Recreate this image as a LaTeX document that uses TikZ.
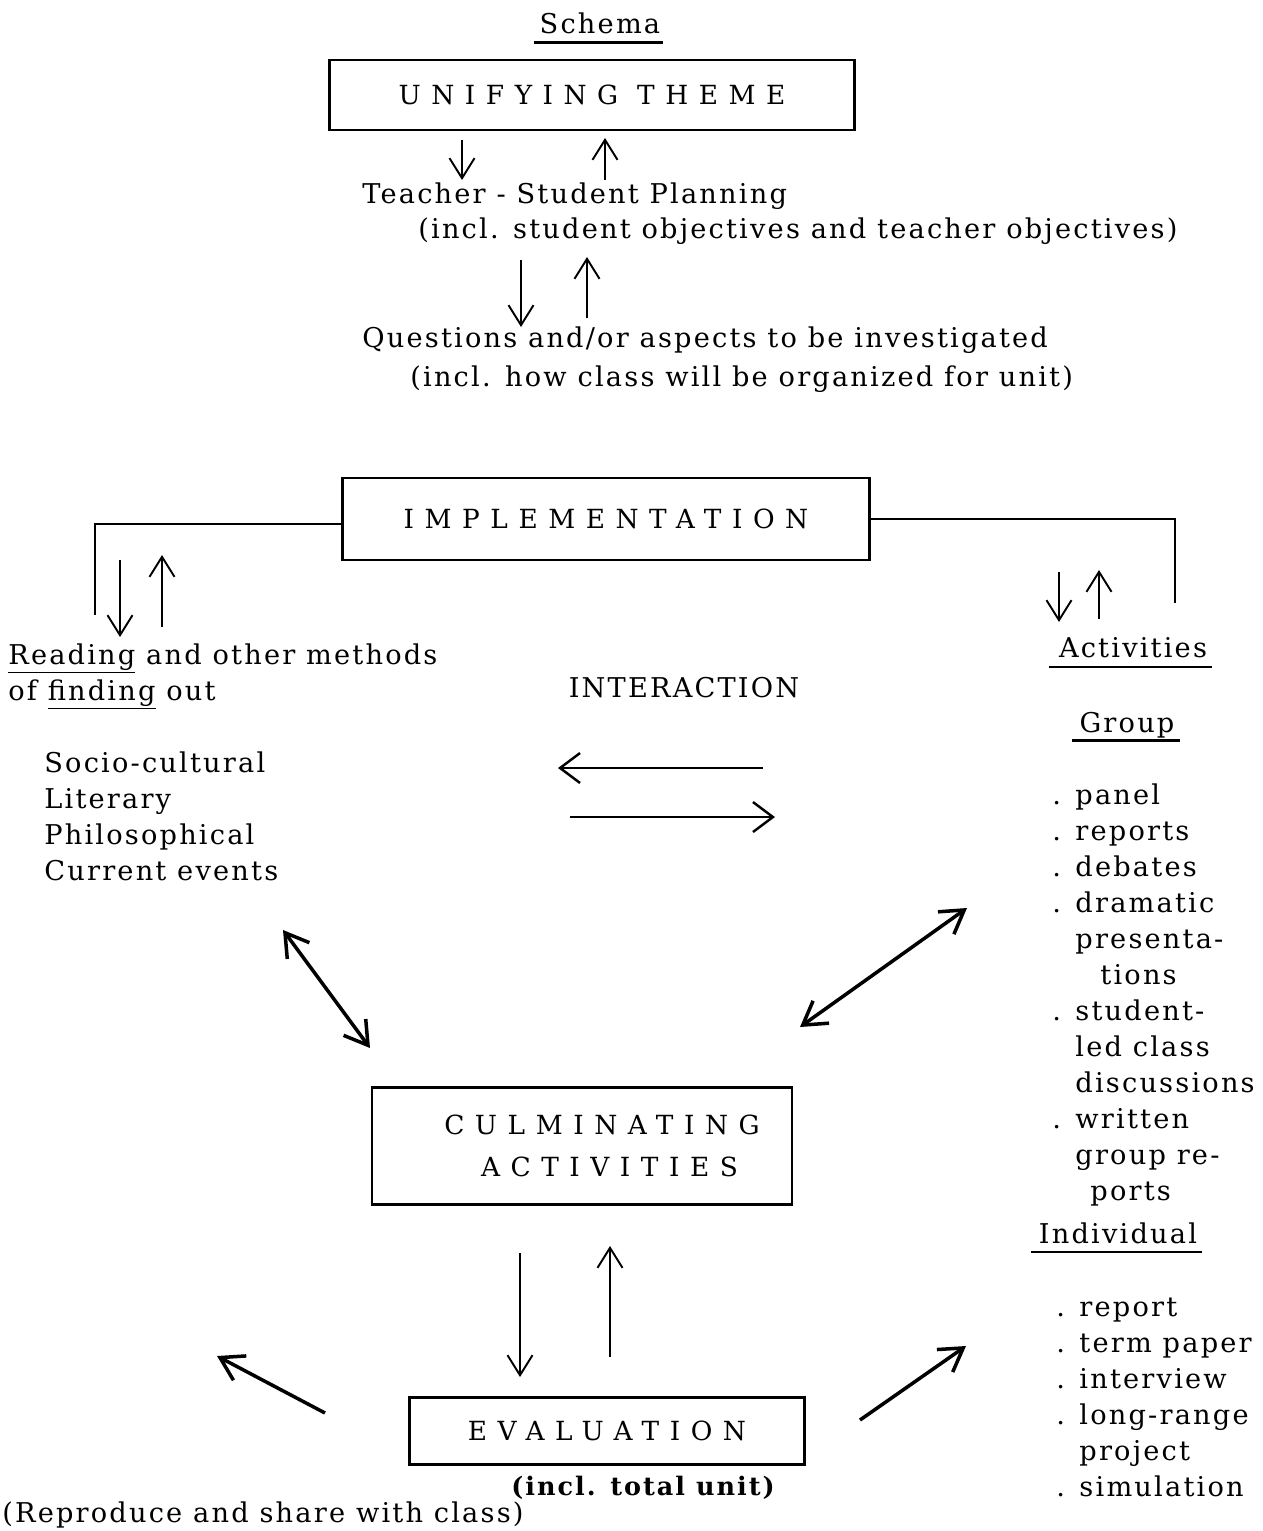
\documentclass[tikz,border=0pt]{standalone}
\usepackage{fontspec}
\setmainfont[LetterSpace=8]{DejaVu Serif}
\newfontfamily\capsfont[LetterSpace=40]{DejaVu Serif}
\usetikzlibrary{positioning,arrows.meta}

\newcommand{\leftlines}[1]{\begin{tabular}[t]{@{}l@{}}#1\end{tabular}}

\tikzset{
    txt/.style={inner sep=0pt, anchor=base west, font=\fontsize{15.5}{20.5}\selectfont},
    box/.style={draw, line width=1.4pt, inner sep=0pt, font=\fontsize{15}{24}\selectfont\capsfont},
    uline/.style={line width=1.2pt},
    arr/.style={line width=1.1pt, -{Straight Barb[length=4mm,width=5mm]}},
    harr/.style={line width=1.4pt, -{Straight Barb[length=4mm,width=6mm]}},
    slant/.style={line width=2pt, -{Straight Barb[length=4.5mm,width=5.5mm]}},
    both/.style={line width=2pt, {Straight Barb[length=4.5mm,width=5.5mm]}-{Straight Barb[length=4.5mm,width=5.5mm]}}
}

\begin{document}
\begin{tikzpicture}[x=0.02cm, y=-0.02cm]
    \useasboundingbox (0,0) rectangle (1262,1531);

    % Title
    \node[txt, anchor=base] (schema) at (600,34) {Schema};
    \draw[uline] ([xshift=-0.1cm, yshift=-0.17cm]schema.base west) -- ([xshift=0.05cm, yshift=-0.17cm]schema.base east);

    % Theme and planning
    \node[box, minimum width=10.5cm, minimum height=1.4cm] (unify) at (592,95) {UNIFYING THEME};

    \coordinate (ua1) at (462,140);
    \coordinate (ua2) at (462,180);
    \coordinate (ub1) at (605,180);
    \coordinate (ub2) at (605,138);
    \draw[arr] (ua1) -- (ua2);
    \draw[arr] (ub1) -- (ub2);

    \node[txt] (plan) at (362,203) {Teacher - Student Planning};
    \node[txt] (planinc) at (418,238) {(incl. student objectives and teacher objectives)};

    \coordinate (qa1) at (521,260);
    \coordinate (qa2) at (521,327);
    \coordinate (qb1) at (587,318);
    \coordinate (qb2) at (587,257);
    \draw[arr] (qa1) -- (qa2);
    \draw[arr] (qb1) -- (qb2);

    \node[txt] (quest) at (362,347) {Questions and/or aspects to be investigated};
    \node[txt] (questinc) at (410,386) {(incl. how class will be organized for unit)};

    % Implementation
    \node[box, minimum width=10.54cm, minimum height=1.64cm] (impl) at (606,519) {IMPLEMENTATION};
    \coordinate (readtop) at (95,615);
    \coordinate (acttop) at (1175,603);
    \draw[line width=1.3pt] ([yshift=-0.1cm]impl.west) -| (readtop);
    \draw[line width=1.3pt] (impl.east) -| (acttop);

    \coordinate (ra1) at (120,560);
    \coordinate (ra2) at (120,637);
    \coordinate (rb1) at (162,627);
    \coordinate (rb2) at (162,555);
    \draw[arr] (ra1) -- (ra2);
    \draw[arr] (rb1) -- (rb2);

    \coordinate (aa1) at (1059,572);
    \coordinate (aa2) at (1059,622);
    \coordinate (ab1) at (1099,619);
    \coordinate (ab2) at (1099,570);
    \draw[arr] (aa1) -- (aa2);
    \draw[arr] (ab1) -- (ab2);

    % Reading side
    \node[txt] (read) at (8,664) {\leftlines{\underline{Reading} and other methods\\of \underline{finding} out}};
    \node[txt] (topics) at (44,772) {\leftlines{Socio-cultural\\Literary\\Philosophical\\Current events}};

    % Interaction
    \node[txt, anchor=base] (inter) at (684,697) {INTERACTION};
    \coordinate (ia1) at (763,768);
    \coordinate (ia2) at (558,768);
    \coordinate (ib1) at (570,817);
    \coordinate (ib2) at (775,817);
    \draw[harr] (ia1) -- (ia2);
    \draw[harr] (ib1) -- (ib2);

    % Activities side
    \node[txt, anchor=base] (activ) at (1133,657) {Activities};
    \draw[uline] ([xshift=-0.2cm, yshift=-0.2cm]activ.base west) -- ([xshift=0.1cm, yshift=-0.2cm]activ.base east);
    \node[txt, anchor=base] (group) at (1127,732) {Group};
    \draw[uline] ([xshift=-0.15cm, yshift=-0.17cm]group.base west) -- ([xshift=0.1cm, yshift=-0.17cm]group.base east);
    \node[txt] (grouplist) at (1052,804) {\leftlines{. panel\\. reports\\. debates\\. dramatic\\\hphantom{. }presenta-\\\hphantom{. }\hspace*{0.5cm}tions\\. student-\\\hphantom{. }led class\\\hphantom{. }discussions\\. written\\\hphantom{. }group re-\\\hphantom{. }\hspace*{0.3cm}ports}};
    \node[txt, anchor=base] (indiv) at (1118,1243) {Individual};
    \draw[uline] ([xshift=-0.15cm, yshift=-0.18cm]indiv.base west) -- ([xshift=0.1cm, yshift=-0.18cm]indiv.base east);
    \node[txt] (indivlist) at (1056,1316) {\leftlines{. report\\. term paper\\. interview\\. long-range\\\hphantom{. }project\\. simulation}};

    % Culminating activities
    \coordinate (la1) at (283,930);
    \coordinate (la2) at (370,1048);
    \coordinate (lb1) at (967,908);
    \coordinate (lb2) at (800,1027);
    \draw[both] (la1) -- (la2);
    \draw[both] (lb1) -- (lb2);

    \node[box, minimum width=8.4cm, minimum height=2.34cm, align=center] (culm) at (582,1146) {\hspace*{0.8cm}CULMINATING\\\hspace*{1.1cm}ACTIVITIES};

    \coordinate (ca1) at (520,1253);
    \coordinate (ca2) at (520,1377);
    \coordinate (cb1) at (610,1357);
    \coordinate (cb2) at (610,1246);
    \draw[arr] (ca1) -- (ca2);
    \draw[arr] (cb1) -- (cb2);

    % Evaluation
    \node[box, minimum width=7.9cm, minimum height=1.34cm] (eval) at (607,1431) {EVALUATION};
    \node[txt, anchor=base, font=\fontsize{14.5}{18}\selectfont\bfseries] (evalinc) at (643,1495) {(incl. total unit)};
    \node[txt] (share) at (2,1522) {(Reproduce and share with class)};

    \coordinate (ea1) at (325,1413);
    \coordinate (ea2) at (217,1356);
    \coordinate (eb1) at (860,1420);
    \coordinate (eb2) at (966,1346);
    \draw[slant] (ea1) -- (ea2);
    \draw[slant] (eb1) -- (eb2);
\end{tikzpicture}
\end{document}
